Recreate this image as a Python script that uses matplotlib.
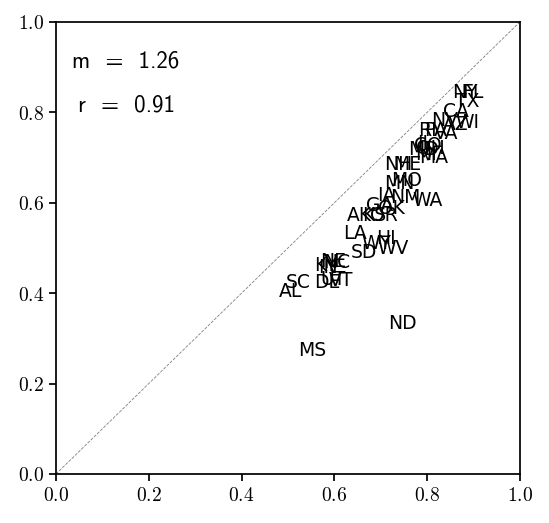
import matplotlib
matplotlib.use("Agg")
import matplotlib.pyplot as plt

plt.rcParams["mathtext.fontset"] = "cm"

states = ["NY", "FL", "TX", "CA", "NV", "AZ", "WI", "RI", "PA", "VA",
          "IL", "CO", "OH", "MD", "MA", "MI", "NH", "ME", "MO", "MN",
          "IA", "NM", "WA", "GA", "OK", "AK", "KS", "OR", "LA", "HI",
          "WY", "SD", "WV", "NE", "NC", "KY", "IN", "DE", "VT", "UT",
          "SC", "AL", "ND", "MS"]
x_vals = [0.881, 0.899, 0.886, 0.862, 0.838, 0.862, 0.886, 0.800, 0.819, 0.841,
          0.795, 0.802, 0.806, 0.793, 0.815, 0.797, 0.737, 0.756, 0.756, 0.741,
          0.711, 0.752, 0.802, 0.698, 0.724, 0.655, 0.685, 0.707, 0.644, 0.711,
          0.690, 0.664, 0.726, 0.597, 0.606, 0.582, 0.586, 0.584, 0.614, 0.597,
          0.522, 0.506, 0.746, 0.552]
y_vals = [0.843, 0.843, 0.823, 0.803, 0.781, 0.774, 0.777, 0.761, 0.761, 0.754,
          0.732, 0.726, 0.721, 0.717, 0.701, 0.706, 0.684, 0.684, 0.650, 0.642,
          0.615, 0.611, 0.604, 0.593, 0.588, 0.571, 0.571, 0.571, 0.533, 0.520,
          0.511, 0.491, 0.498, 0.469, 0.467, 0.462, 0.456, 0.423, 0.427, 0.431,
          0.423, 0.403, 0.334, 0.274]
slope_text = "m  =  1.26"
corr_text = "r  =  0.91"
ticks = [0.0, 0.2, 0.4, 0.6, 0.8, 1.0]

fig = plt.figure(figsize=(5.49, 5.23), dpi=100)
ax = fig.add_axes([0.102, 0.0937, 0.845, 0.8643])
ax.plot([0, 1], [0, 1], color="gray", ls="--", lw=0.6)
for s, xv, yv in zip(states, x_vals, y_vals):
    ax.text(xv, yv, s, ha="center", va="center", fontsize=13.5,
            family="DejaVu Sans")
ax.set_xlim(0, 1)
ax.set_ylim(0, 1)
ax.set_xticks(ticks)
ax.set_yticks(ticks)
ax.set_xticklabels([f"${t:.1f}$" for t in ticks], fontsize=14)
ax.set_yticklabels([f"${t:.1f}$" for t in ticks], fontsize=14)
ax.tick_params(direction="out", length=5, width=1.25)
for sp in ax.spines.values():
    sp.set_linewidth(1.25)
ax.text(0.151, 0.900, slope_text, transform=ax.transAxes, ha="center",
        va="baseline", fontsize=16.5, family="cmss10")
ax.text(0.151, 0.801, corr_text, transform=ax.transAxes, ha="center",
        va="baseline", fontsize=16.5, family="cmss10")
fig.savefig("out.png", dpi=100)
